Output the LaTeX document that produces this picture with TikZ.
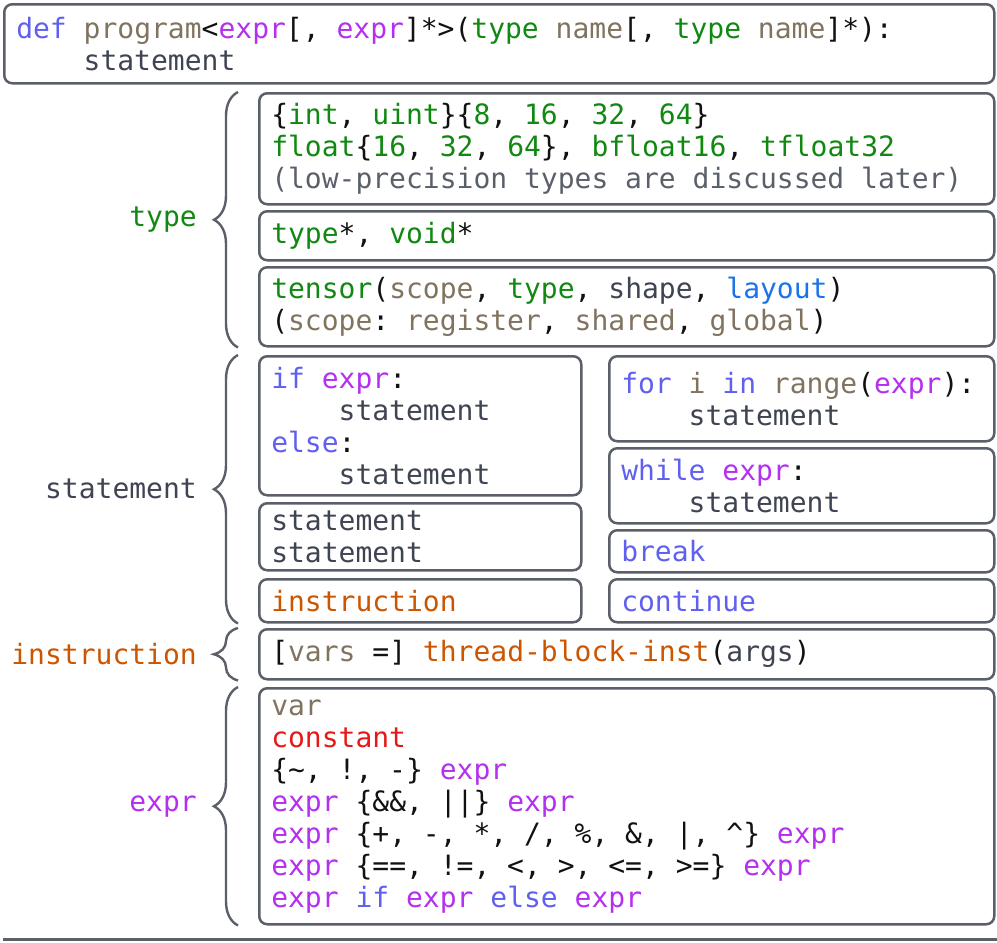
\documentclass[tikz,border=0pt]{standalone}
\usepackage{fontspec}
\setmonofont{DejaVu Sans Mono}
\usepackage{xcolor}
\usepackage{tikz}
\usetikzlibrary{decorations.pathreplacing, positioning}

\definecolor{frame}{HTML}{5A5F69}
\definecolor{ink}{HTML}{111111}
\definecolor{kwblue}{HTML}{6060F0}
\definecolor{nmbrown}{HTML}{80735F}
\definecolor{expurple}{HTML}{B42FEF}
\definecolor{tygreen}{HTML}{118811}
\definecolor{stslate}{HTML}{3E4451}
\definecolor{cmgray}{HTML}{5A606A}
\definecolor{lyblue}{HTML}{1A73E8}
\definecolor{inorange}{HTML}{CC5500}
\definecolor{cored}{HTML}{E61919}

\newcommand\codefont{\ttfamily\fontsize{14}{16}\selectfont}
\newcommand\monospaces{\spaceskip=8.43pt\relax\xspaceskip=8.43pt\relax}
\newcommand\ckw[1]{\textcolor{kwblue}{#1}}
\newcommand\cnm[1]{\textcolor{nmbrown}{#1}}
\newcommand\cex[1]{\textcolor{expurple}{#1}}
\newcommand\cty[1]{\textcolor{tygreen}{#1}}
\newcommand\cst[1]{\textcolor{stslate}{#1}}
\newcommand\ccm[1]{\textcolor{cmgray}{#1}}
\newcommand\cly[1]{\textcolor{lyblue}{#1}}
\newcommand\cin[1]{\textcolor{inorange}{#1}}
\newcommand\cco[1]{\textcolor{cored}{#1}}
\newcommand\cind{\phantom{xxxx}}

\begin{document}
\begin{tikzpicture}[x=0.5pt, y=0.5pt, font=\codefont,
  box/.style={draw=frame, line width=1.25pt, rounded corners=4pt, anchor=north west,
              align=left, inner xsep=6pt, inner ysep=2pt, text=ink,
              execute at begin node=\monospaces},
  wide/.style={box, text width=355.5pt},
  lcol/.style={box, text width=149pt},
  rcol/.style={box, text width=180.5pt},
  brc/.style={draw=frame, line width=1.2pt, decorate, decoration={brace, amplitude=12pt}},
  lbl/.style={inner sep=2pt, left=18pt}
]
\useasboundingbox (0,0) rectangle (997,-943);

\node[box, text width=483pt, minimum height=39.5pt] (prog) at (3,-3)
  {\ckw{def} \cnm{program}<\cex{expr}[, \cex{expr}]*>(\cty{type} \cnm{name}[, \cty{type} \cnm{name}]*):\\
   \cind\cst{statement}};

\node[wide, minimum height=55.5pt] (tyScalar) at (258,-92)
  {\{\cty{int}, \cty{uint}\}\{\cty{8}, \cty{16}, \cty{32}, \cty{64}\}\\
   \cty{float}\{\cty{16}, \cty{32}, \cty{64}\}, \cty{bfloat16}, \cty{tfloat32}\\
   \ccm{(low-precision types are discussed later)}};
\node[wide, minimum height=24.5pt] (tyPtr) at (258,-210) {\cty{type}*, \cty{void}*};
\node[wide, minimum height=39.5pt] (tyTensor) at (258,-266)
  {\cty{tensor}(\cnm{scope}, \cty{type}, \cst{shape}, \cly{layout})\\
   (\cnm{scope}: \cnm{register}, \cnm{shared}, \cnm{global})};

\node[lcol, minimum height=69.5pt] (stIf) at (258,-355)
  {\ckw{if} \cex{expr}:\\ \cind\cst{statement}\\ \ckw{else}:\\ \cind\cst{statement}};
\node[lcol, minimum height=33.5pt] (stSeq) at (258,-502) {\cst{statement}\\ \cst{statement}};
\node[lcol, minimum height=21.5pt] (stInst) at (258,-578) {\cin{instruction}};

\node[rcol, minimum height=42.5pt] (stFor) at (608,-355)
  {\ckw{for} \cnm{i} \ckw{in} \cnm{range}(\cex{expr}):\\ \cind\cst{statement}};
\node[rcol, minimum height=37.5pt] (stWhile) at (608,-447)
  {\ckw{while} \cex{expr}:\\ \cind\cst{statement}};
\node[rcol, minimum height=21pt] (stBreak) at (608,-529) {\ckw{break}};
\node[rcol, minimum height=21.5pt] (stCont) at (608,-578) {\ckw{continue}};

\node[wide, minimum height=25pt] (inCall) at (258,-628)
  {[\cnm{vars} =] \cin{thread-block-inst}(\cst{args})};

\node[wide, minimum height=118pt] (exAll) at (258,-687)
  {\cnm{var}\\
   \cco{constant}\\
   \{\textasciitilde, !, -\} \cex{expr}\\
   \cex{expr} \{\&\&, ||\} \cex{expr}\\
   \cex{expr} \{+, -, *, /, \%, \&, |, \textasciicircum\} \cex{expr}\\
   \cex{expr} \{==, !=, <, >, <=, >=\} \cex{expr}\\
   \cex{expr} \ckw{if} \cex{expr} \ckw{else} \cex{expr}};

\draw[brc] ([xshift=-10pt]tyTensor.south west) -- node[lbl, text=tygreen] (lType) {type}
  ([xshift=-10pt]tyScalar.north west);
\draw[brc] ([xshift=-10pt]stInst.south west) -- node[lbl, text=stslate] (lStmt) {statement}
  ([xshift=-10pt]stIf.north west);
\draw[brc] ([xshift=-10pt]inCall.south west) -- node[lbl, text=inorange] (lInst) {instruction}
  ([xshift=-10pt]inCall.north west);
\draw[brc] ([xshift=-10pt]exAll.south west) -- node[lbl, text=expurple] (lExpr) {expr}
  ([xshift=-10pt]exAll.north west);

\draw[frame, line width=1.5pt] (3,-939) -- (997,-939);
\end{tikzpicture}
\end{document}
